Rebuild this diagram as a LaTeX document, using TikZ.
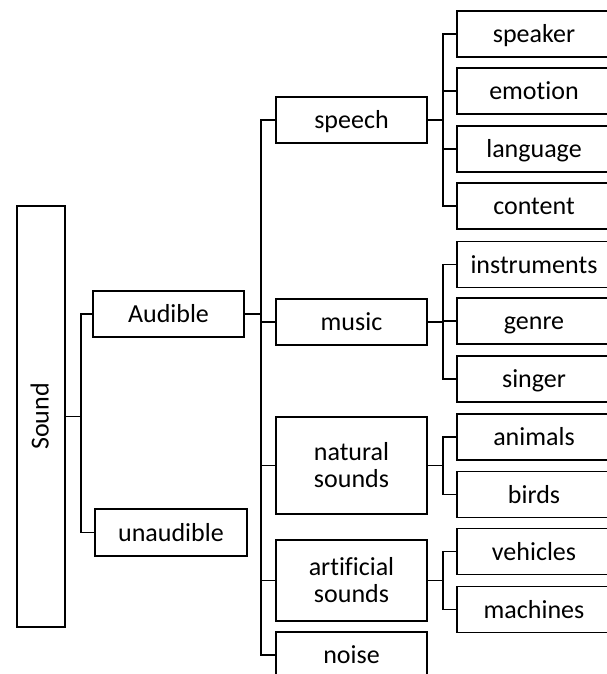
\documentclass[tikz,border=0pt]{standalone}
\usepackage{fontspec}
\setmainfont{Carlito}[Ligatures={NoCommon,NoContextual}]
\begin{document}
\begin{tikzpicture}[x=1bp,y=-1bp,
  base/.style={draw, line width=1.6bp, rectangle, inner sep=0pt, align=center,
    font=\fontsize{26bp}{27bp}\selectfont},
  one/.style={base, text height=17bp, text depth=0pt},
  mid/.style={one, minimum width=151bp, minimum height=46bp},
  midtwo/.style={base, minimum width=151bp},
  leaf/.style={one, minimum width=154bp, minimum height=46bp},
  conn/.style={line width=1.6bp}]
\clip (0,0) rectangle (607,674);
% root
\node[base, minimum width=48bp, minimum height=421bp] (sound) at (41,416.5) {};
\node[rotate=90, inner sep=0pt, text height=17bp, text depth=0pt,
      font=\fontsize{26bp}{27bp}\selectfont] (soundlabel) at (40,416.5) {Sound};
% level 1
\node[mid] (audible) at (168.5,314) {Audible};
\node[mid, minimum width=152bp, minimum height=47bp] (unaudible) at (171,532.5) {unaudible};
% level 2
\node[mid] (speech) at (351.5,120) {speech};
\node[mid] (music) at (351.5,322) {music};
\node[midtwo, minimum height=97bp] (natural) at (351.5,465.5) {natural\\sounds};
\node[midtwo, minimum height=81bp] (artificial) at (351.5,580.5) {artificial\\sounds};
\node[mid] (noise) at (351.5,655) {noise};
% leaves
\node[leaf] (speaker) at (534,34) {speaker};
\node[leaf] (emotion) at (534,91) {emotion};
\node[leaf] (language) at (534,149) {language};
\node[leaf] (content) at (534,206) {content};
\node[leaf] (instruments) at (534,264.5) {instruments};
\node[leaf] (genre) at (534,321) {genre};
\node[leaf] (singer) at (534,379) {singer};
\node[leaf] (animals) at (534,437) {animals};
\node[leaf] (birds) at (534,494.5) {birds};
\node[leaf] (vehicles) at (534,551.5) {vehicles};
\node[leaf] (machines) at (534,609.5) {machines};
% connectors
\foreach \c in {audible,unaudible}
  \draw[conn] (sound.east) -- ++(15,0) |- (\c.west);
\foreach \c in {speech,music,natural,artificial,noise}
  \draw[conn] (audible.east) -- ++(16,0) |- (\c.west);
\foreach \c in {speaker,emotion,language,content}
  \draw[conn] (speech.east) -- ++(15,0) |- (\c.west);
\foreach \c in {instruments,genre,singer}
  \draw[conn] (music.east) -- ++(15,0) |- (\c.west);
\foreach \c in {animals,birds}
  \draw[conn] (natural.east) -- ++(15,0) |- (\c.west);
\foreach \c in {vehicles,machines}
  \draw[conn] (artificial.east) -- ++(15,0) |- (\c.west);
\end{tikzpicture}
\end{document}
